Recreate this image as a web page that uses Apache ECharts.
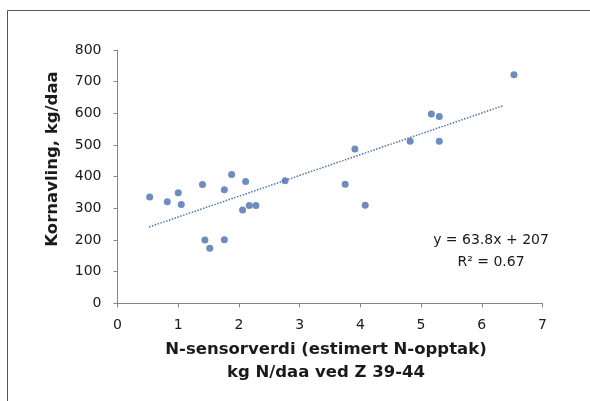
<!DOCTYPE html>
<html><head><meta charset="utf-8">
<script src="https://cdn.jsdelivr.net/npm/echarts@6/dist/echarts.min.js"></script>
<style>html,body{margin:0;padding:0;background:#fff}#c{width:590px;height:401px}</style>
</head><body><div id="c"></div>
<script>
const xValues = [0.53,0.82,1.00,1.05,1.40,1.44,1.52,1.76,1.76,1.88,2.06,2.11,2.17,2.28,2.76,3.75,3.91,4.08,4.82,5.17,5.30,5.30,6.53];
const yValues = [336,321,349,312,375,200,174,359,201,407,295,385,309,309,387,376,487,310,512,598,590,512,722];
const trendX = [0.52, 6.35];
const trendY = [241, 624];
const xTicks = [0,1,2,3,4,5,6,7];
const yTicks = [0,100,200,300,400,500,600,700,800];
const eqText = ['y = 63.8x + 207', 'R² = 0.67'];
const xTitle = ['N-sensorverdi (estimert N-opptak)', 'kg N/daa ved Z 39-44'];
const yTitle = 'Kornavling, kg/daa';

const chart = echarts.init(document.getElementById('c'));
const font = 'DejaVu Sans';
const txt = '#1a1a1a';
chart.setOption({
  animation:false,
  backgroundColor:'#fff',
  grid:{left:117.5,right:47.5,top:50,bottom:97.7},
  xAxis:{type:'value',min:xTicks[0],max:xTicks[xTicks.length-1],interval:1,
    axisLine:{lineStyle:{color:'#868686',width:1}},
    axisTick:{show:true,length:4,lineStyle:{color:'#868686'}},
    splitLine:{show:false},
    axisLabel:{color:txt,fontFamily:font,fontSize:14,margin:15}
  },
  yAxis:{type:'value',min:yTicks[0],max:yTicks[yTicks.length-1],interval:100,
    axisLine:{show:true,lineStyle:{color:'#868686',width:1}},
    axisTick:{show:true,length:4,lineStyle:{color:'#868686'}},
    splitLine:{show:false},
    axisLabel:{color:txt,fontFamily:font,fontSize:14,margin:16}
  },
  series:[
    {type:'line',data:trendX.map((x,i)=>[x,trendY[i]]),symbol:'none',
     lineStyle:{color:'#4f74b0',width:1.5,type:[1.5,1.5]},z:1,silent:true},
    {type:'scatter',data:xValues.map((x,i)=>[x,yValues[i]]),symbol:'circle',symbolSize:7,
     itemStyle:{color:'#4a6fae'},z:2}
  ],
  graphic:[
    {type:'rect',shape:{x:7.5,y:10.5,width:600,height:400},style:{fill:'none',stroke:'#555',lineWidth:1},silent:true},
    {type:'text',x:491,y:240,style:{text:eqText[0],fill:txt,font:'14px "DejaVu Sans"',textAlign:'center',textVerticalAlign:'middle'}},
    {type:'text',x:491,y:262,style:{text:eqText[1],fill:txt,font:'14px "DejaVu Sans"',textAlign:'center',textVerticalAlign:'middle'}},
    {type:'text',x:326,y:350,style:{text:xTitle[0],fill:txt,font:'bold 16.5px "DejaVu Sans"',textAlign:'center',textVerticalAlign:'middle'}},
    {type:'text',x:326,y:373,style:{text:xTitle[1],fill:txt,font:'bold 16.5px "DejaVu Sans"',textAlign:'center',textVerticalAlign:'middle'}},
    {type:'text',x:53,y:159,rotation:Math.PI/2,style:{text:yTitle,fill:txt,font:'bold 16.5px "DejaVu Sans"',textAlign:'center',textVerticalAlign:'middle'}}
  ]
});
</script></body></html>
